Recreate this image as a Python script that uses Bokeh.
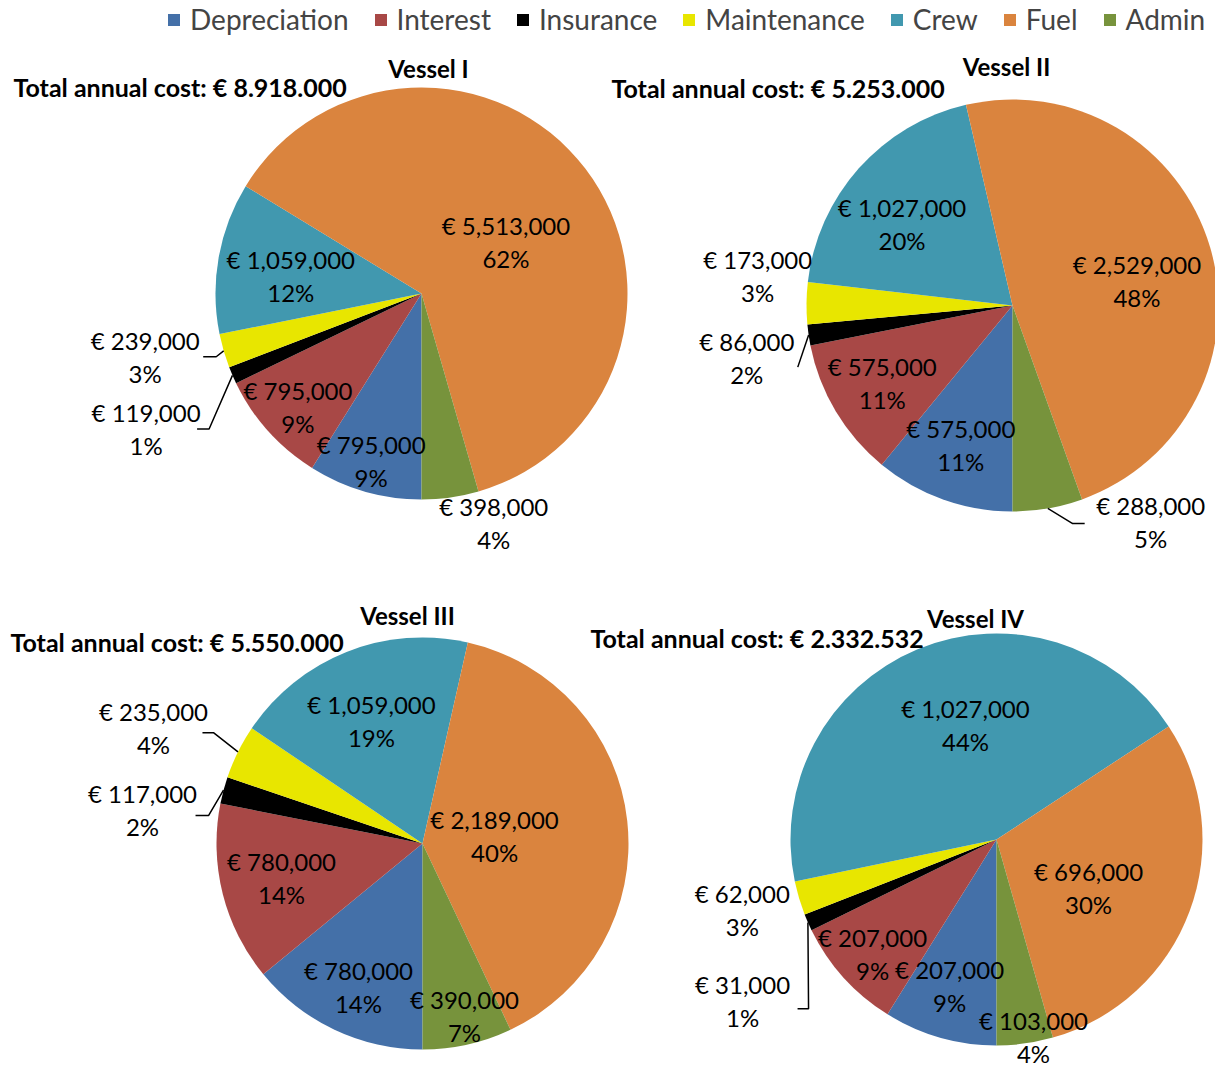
import math
from bokeh.plotting import figure
from bokeh.models import ColumnDataSource, Range1d, Legend, LegendItem
from bokeh.core.properties import value
from bokeh.embed import file_html
from bokeh.resources import INLINE

# ---------------- data ----------------
categories = ["Depreciation", "Interest", "Insurance", "Maintenance", "Crew", "Fuel", "Admin"]
vessels = ["Vessel I", "Vessel II", "Vessel III", "Vessel IV"]
totals_text = ["€ 8.918.000", "€ 5.253.000", "€ 5.550.000", "€ 2.332.532"]

vessel1 = [795000, 795000, 119000, 239000, 1059000, 5513000, 398000]
vessel2 = [575000, 575000, 86000, 173000, 1027000, 2529000, 288000]
vessel3 = [780000, 780000, 117000, 235000, 1059000, 2189000, 390000]
vessel4 = [207000, 207000, 31000, 62000, 1027000, 696000, 103000]

pct1 = [9, 9, 1, 3, 12, 62, 4]
pct2 = [11, 11, 2, 3, 20, 48, 5]
pct3 = [14, 14, 2, 4, 19, 40, 7]
pct4 = [9, 9, 1, 3, 44, 30, 4]

values = [vessel1, vessel2, vessel3, vessel4]
pcts = [pct1, pct2, pct3, pct4]

# ---------------- style / layout ----------------
colors = ["#4470A8", "#A84846", "#000000", "#E8E600", "#4198AF", "#DA843E", "#77933C"]
FONT = "Lato"
W, H = 1215, 1067

centers = [(421, 293), (1012, 305), (422, 843), (996, 839)]  # screen px
R = 206
title_pos = [(428, 68), (1006, 66), (407, 615), (975, 618)]
total_pos = [(13, 86), (611, 87), (10, 641), (590, 637)]

# label placement: (radius factor, angle deg) around each pie centre
label_polar = [
    [(0.85, -106.7), (0.815, -137.4), (1.49, -153.8), (1.376, -167.1), (0.64, 172.5), (0.48, 31.3), (1.166, -72.5)],
    [(0.72, -110.4), (0.736, -149.2), (1.315, -168.8), (1.245, 173.5), (0.667, 143.5), (0.616, 11.3), (1.245, -57.4)],
    [(0.761, -114.1), (0.705, -166.1), (1.369, 173.1), (1.422, 156.7), (0.642, 112.7), (0.352, 6.3), (0.86, -76.3)],
    [(0.745, -107.8), (0.82, -137.2), (1.46, -147.6), (1.28, -164.6), (0.574, 105.2), (0.506, -28.0), (0.977, -79.4)],
]
# leader lines: (vessel idx, category idx, end dx, end dy (screen) from label centre, elbow length)
leaders = [
    (0, 2, 51, 0, 12), (0, 3, 58, 0, 13),
    (1, 2, 51, 9, 0), (1, 6, -66, 2, 12),
    (2, 2, 53, 6, 13), (2, 3, 49, 5, 11),
    (3, 2, 55, 8, 11),
]


def Y(y):
    return H - y


p = figure(width=W, height=H, output_backend="svg", toolbar_location=None,
           x_range=Range1d(0, W), y_range=Range1d(0, H),
           min_border=0, outline_line_color=None)
p.axis.visible = False
p.grid.visible = False
p.background_fill_color = "white"
p.border_fill_color = "white"

# wedge geometry
geo = []
for vi, vals in enumerate(values):
    tot = sum(vals)
    cum = 0.0
    g = []
    for v in vals:
        f0 = cum / tot
        cum += v
        f1 = cum / tot
        g.append((f0, f1))
    geo.append(g)

renderers = []
for k, cat in enumerate(categories):
    xs, ys, st, en = [], [], [], []
    for vi in range(len(vessels)):
        f0, f1 = geo[vi][k]
        cx, cy = centers[vi]
        xs.append(cx)
        ys.append(Y(cy))
        st.append(-math.pi / 2 - f1 * 2 * math.pi)
        en.append(-math.pi / 2 - f0 * 2 * math.pi)
    src = ColumnDataSource(dict(x=xs, y=ys, start=st, end=en))
    r = p.wedge(x="x", y="y", radius=R, start_angle="start", end_angle="end",
                direction="anticlock", source=src, fill_color=colors[k], line_color=None)
    renderers.append(r)

# data labels
lx, ly, ltxt = [], [], []
label_centres = {}
for vi in range(len(vessels)):
    cx, cy = centers[vi]
    for k in range(len(categories)):
        rho, th = label_polar[vi][k]
        x = cx + rho * R * math.cos(math.radians(th))
        y = Y(cy) + rho * R * math.sin(math.radians(th))
        label_centres[(vi, k)] = (x, y)
        lx += [x, x]
        ly += [y + 16.5, y - 16.5]
        ltxt += ["€ {:,}".format(values[vi][k]), "{}%".format(pcts[vi][k])]
p.text(x=lx, y=ly, text=ltxt, text_font=value(FONT), text_font_size="24px",
       text_align="center", text_baseline="middle", text_color="black")

# leader lines
mx, my = [], []
for vi, k, dx, dy, el in leaders:
    cx, cy = centers[vi]
    f0, f1 = geo[vi][k]
    a = -math.pi / 2 - (f0 + f1) / 2 * 2 * math.pi
    sx0 = cx + R * math.cos(a)
    sy0 = Y(cy) + R * math.sin(a)
    lxc, lyc = label_centres[(vi, k)]
    ex, ey = lxc + dx, lyc - dy
    elx = ex + (el if dx > 0 else -el)
    mx.append([sx0, elx, ex])
    my.append([sy0, ey, ey])
p.multi_line(xs=mx, ys=my, line_color="black", line_width=1.5)

# titles
p.text(x=[t[0] for t in title_pos], y=[Y(t[1]) for t in title_pos], text=vessels,
       text_font=value(FONT), text_font_size="24px", text_font_style="bold",
       text_align="center", text_baseline="middle", text_color="black")
p.text(x=[t[0] for t in total_pos], y=[Y(t[1]) for t in total_pos],
       text=["Total annual cost: " + t for t in totals_text],
       text_font=value(FONT), text_font_size="25px", text_font_style="bold",
       text_align="left", text_baseline="middle", text_color="black")

# legend
legend = Legend(items=[LegendItem(label=c, renderers=[renderers[i]]) for i, c in enumerate(categories)],
                orientation="horizontal", location=(166, H - 36),
                glyph_width=15, glyph_height=15, label_standoff=9, spacing=24,
                padding=0, margin=0, border_line_color=None, background_fill_alpha=0,
                label_text_font=FONT, label_text_font_size="28px", label_height=32)
p.add_layout(legend)

open("out.html", "w").write(file_html(p, INLINE))
